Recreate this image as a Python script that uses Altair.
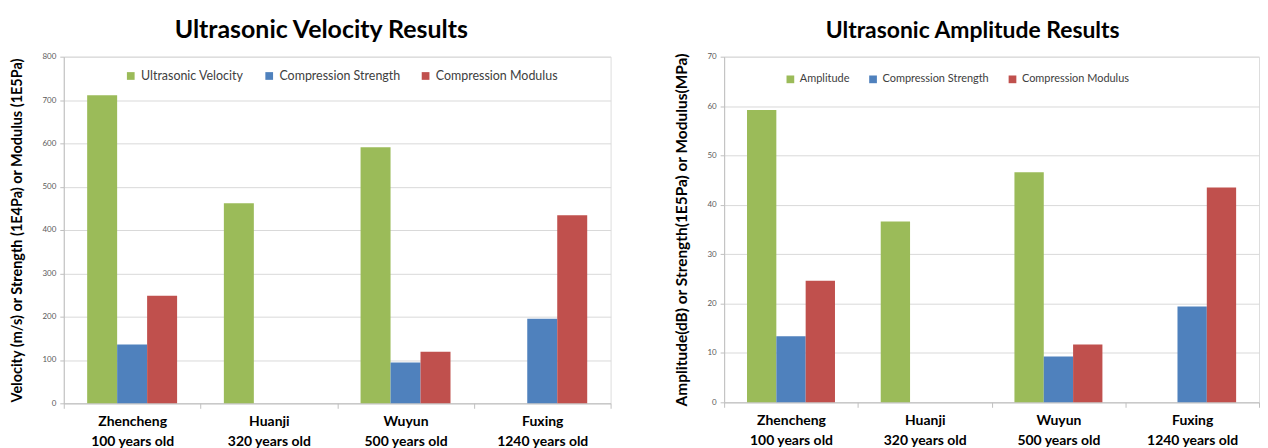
import altair as alt
import pandas as pd

categories = ["Zhencheng|100 years old", "Huanji|320 years old", "Wuyun|500 years old", "Fuxing|1240 years old"]

# Left chart
left_series = ["Ultrasonic Velocity", "Compression Strength", "Compression Modulus"]
velocity = [711, 462, 591, None]
strength_v = [136, None, 94, 195]
modulus_v = [248, None, 119, 434]
left_ticks = [0, 100, 200, 300, 400, 500, 600, 700, 800]

# Right chart
right_series = ["Amplitude", "Compression Strength", "Compression Modulus"]
amplitude = [59.2, 36.6, 46.6, None]
strength_a = [13.4, None, 9.3, 19.4]
modulus_a = [24.6, None, 11.7, 43.5]
right_ticks = [0, 10, 20, 30, 40, 50, 60, 70]

colors = ["#9BBB59", "#4F81BD", "#C0504D"]
FONT = "Lato"


def long_df(series, cols):
    rows = []
    for s, vals in zip(series, cols):
        for c, v in zip(categories, vals):
            if v is not None:
                rows.append({"cat": c, "series": s, "value": v})
    return pd.DataFrame(rows)


def panel(df, series, ticks, ymax, title, title_size, ytitle, ytitle_size, width, height,
          legend_x, legend_y, legend_font, legend_pad, title_dx):
    return alt.Chart(df).mark_bar().encode(
        x=alt.X("cat:N", sort=categories,
                scale=alt.Scale(paddingInner=0, paddingOuter=0),
                axis=alt.Axis(title=None, labelAngle=0,
                              labelExpr="split(datum.label, '|')",
                              labelFontSize=14, labelFontWeight="bold", labelColor="#000000",
                              labelFont=FONT, labelLineHeight=20, labelPadding=6,
                              tickBand="extent", tickSize=5, tickColor="#BFBFBF",
                              domainColor="#BFBFBF", grid=False)),
        xOffset=alt.XOffset("series:N", sort=series,
                            scale=alt.Scale(domain=series, paddingInner=0, paddingOuter=0.78)),
        y=alt.Y("value:Q", scale=alt.Scale(domain=[0, ymax], nice=False),
                axis=alt.Axis(title=ytitle, values=ticks, labelFontSize=8, labelColor="#595959",
                              labelFont=FONT, tickSize=4, labelPadding=4, tickColor="#BFBFBF",
                              domainColor="#BFBFBF", gridColor="#D9D9D9",
                              titleFontSize=ytitle_size, titleFont=FONT, titleFontWeight="bold",
                              titleColor="#000000", titlePadding=18)),
        color=alt.Color("series:N", scale=alt.Scale(domain=series, range=colors),
                        legend=alt.Legend(title=None, orient="none", direction="horizontal",
                                          legendX=legend_x, legendY=legend_y,
                                          symbolType="square", symbolSize=60,
                                          symbolStrokeWidth=0,
                                          labelFontSize=legend_font, labelFont=FONT,
                                          labelColor="#404040",
                                          columnPadding=legend_pad, labelOffset=4)),
    ).properties(
        width=width, height=height,
        title=alt.TitleParams(title, fontSize=title_size, font=FONT, fontWeight="bold",
                              color="#000000", anchor="middle", offset=10, dx=title_dx),
    )


left = panel(long_df(left_series, [velocity, strength_v, modulus_v]), left_series,
             left_ticks, 800, "Ultrasonic Velocity Results", 25,
             "Velocity (m/s) or Strength (1E4Pa) or Modulus (1E5Pa)", 14.5,
             549, 348, 61, 13, 12.5, 19, -16)
right = panel(long_df(right_series, [amplitude, strength_a, modulus_a]), right_series,
              right_ticks, 70, "Ultrasonic Amplitude Results", 23,
              "Amplitude(dB) or Strength(1E5Pa) or Modulus(MPa)", 15.5,
              537, 347, 61, 17, 11, 18, -19)

chart = alt.hconcat(left, right, spacing=62).resolve_scale(
    color="independent", xOffset="independent", y="independent", x="independent"
).properties(
    padding={"top": 8, "left": 0, "right": 0, "bottom": 0}
).configure_view(strokeWidth=0).configure(background="#FFFFFF")

chart.save("out.html", embed_options={"renderer": "svg", "actions": False})
